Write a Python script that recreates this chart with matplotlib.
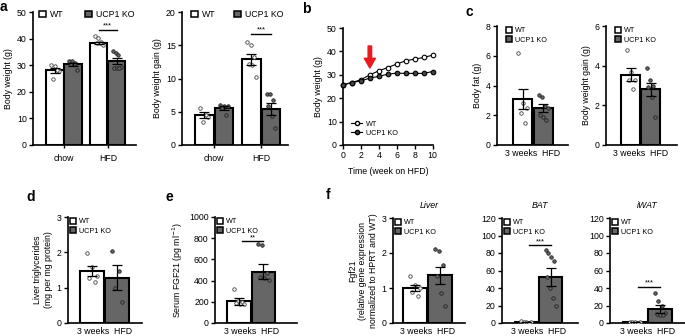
import numpy as np
import matplotlib
matplotlib.use("Agg")
import matplotlib.pyplot as plt
from matplotlib.patches import Patch
from matplotlib.lines import Line2D

plt.rcParams['font.family'] = ['Liberation Sans', 'DejaVu Sans']
plt.rcParams['font.size'] = 6.3

KO_GRAY = '#666666'
RED = '#e8191f'

# ---- data ----
# a: body weight / gain, groups chow and HFD
groups_a = ['chow', 'HFD']
bw_wt_mean = [28.1, 38.4]
bw_wt_sem = [1.0, 0.5]
bw_ko_mean = [30.3, 31.5]
bw_ko_sem = [0.5, 1.2]
bw_wt_pts = [[30.0, 29.6, 27.9, 24.8, 28.2], [40.9, 40.4, 38.8, 38.5, 38.3, 37.6]]
bw_ko_pts = [[31.6, 31.4, 30.9, 30.6, 30.5, 28.1], [35.4, 34.4, 33.8, 29.4, 29.0, 29.0, 28.9]]

gain_wt_mean = [4.5, 12.9]
gain_wt_sem = [0.5, 0.85]
gain_ko_mean = [5.5, 5.35]
gain_ko_sem = [0.3, 0.9]
gain_wt_pts = [[5.5, 4.5, 3.5, 4.2], [15.5, 15.0, 13.3, 12.2, 12.0, 10.2]]
gain_ko_pts = [[6.0, 5.9, 5.8, 5.6, 4.5], [7.6, 7.6, 6.8, 5.8, 4.3, 2.5]]

# b: body weight time course
weeks = [0, 1, 2, 3, 4, 5, 6, 7, 8, 9, 10]
tc_wt = [25.7, 26.7, 27.9, 30.0, 31.7, 33.1, 34.6, 36.0, 36.7, 37.4, 38.4]
tc_ko = [25.7, 26.7, 27.4, 28.6, 29.3, 30.3, 30.7, 30.6, 30.6, 30.6, 31.4]

# c, d, e, f: single group "3 weeks HFD"  -> [WT, KO]
fat_mean = [3.07, 2.47]
fat_sem = [0.68, 0.26]
fat_pts = [[6.17, 2.8, 2.47, 2.13, 1.5], [3.36, 3.2, 2.62, 2.47, 2.02, 1.9, 1.68]]

gain3_mean = [3.55, 2.8]
gain3_sem = [0.32, 0.33]
gain3_pts = [[4.79, 3.7, 3.3, 3.28, 2.8], [3.9, 3.28, 2.97, 2.9, 2.44, 1.43]]

tg_mean = [1.47, 1.28]
tg_sem = [0.14, 0.35]
tg_pts = [[1.97, 1.59, 1.33, 1.27, 1.17], [2.05, 1.47, 1.0, 0.6]]

fgf_mean = [203, 484]
fgf_sem = [30, 70]
fgf_pts = [[325, 210, 195, 185, 180, 175], [745, 735, 475, 430, 420, 410]]

liver_mean = [1.0, 1.36]
liver_sem = [0.08, 0.25]
liver_pts = [[1.33, 1.1, 1.0, 0.9, 0.76], [2.12, 2.07, 1.67, 1.33, 0.86, 0.5]]

bat_mean = [1.0, 52.3]
bat_sem = [0.2, 10.0]
bat_pts = [[1.8, 1.5, 1.0, 0.6, 0.4], [84, 79.5, 75, 71, 53, 40, 28.4, 19]]

iwat_mean = [1.0, 15.9]
iwat_sem = [0.2, 4.7]
iwat_pts = [[1.5, 1.2, 1.0, 0.8, 0.5], [34, 24.6, 19, 11.4, 10, 9.5, 9]]

# ---- figure ----
W, H = 685, 336
fig = plt.figure(figsize=(W / 100, H / 100), dpi=100)


def add_ax(l, t, r, b):
    return fig.add_axes([l / W, 1 - b / H, (r - l) / W, (b - t) / H])


def style(ax):
    for s in ['top', 'right']:
        ax.spines[s].set_visible(False)
    for s in ['left', 'bottom']:
        ax.spines[s].set_linewidth(1.2)
    ax.tick_params(width=1, length=3, labelsize=6.3, pad=1.5)


def bar(ax, x, mean, sem, pts, ko, width):
    ax.bar(x, mean, width=width, color=KO_GRAY if ko else 'white',
           edgecolor='black', linewidth=1.5, zorder=2)
    n = len(pts)
    # spread the dots across the bar, alternating so they don't form a diagonal
    offs = np.linspace(-0.22, 0.22, n) * width
    offs = np.concatenate([offs[::2], offs[1::2]])
    xs = x + offs
    if ko:
        ax.plot(xs, pts, 'o', ms=2.5, mfc=KO_GRAY, mec='#222222', mew=0.6, zorder=3)
    else:
        ax.plot(xs, pts, 'o', ms=2.5, mfc='white', mec='#444444', mew=0.6, zorder=3)
    ax.errorbar(x, mean, yerr=sem, fmt='none', ecolor='black', elinewidth=0.9,
                capsize=3.3, capthick=0.9, zorder=4)


def sig(ax, x0, x1, y, txt):
    ax.plot([x0, x1], [y, y], color='black', lw=1, zorder=5)
    ax.text((x0 + x1) / 2, y, txt, ha='center', va='bottom', fontsize=5.5)


def legend(ax, x_px, y_px, ncol=1, colsp=1.0, fs=5.2):
    handles = [Patch(facecolor='white', edgecolor='black', linewidth=1.1),
               Patch(facecolor=KO_GRAY, edgecolor='black', linewidth=1.1)]
    ax.legend(handles, ['WT', 'UCP1 KO'], loc='upper left', ncol=ncol,
              bbox_to_anchor=(x_px / W, 1 - y_px / H), bbox_transform=fig.transFigure,
              frameon=False, borderpad=0, borderaxespad=0, handlelength=0.8,
              handleheight=0.8, handletextpad=0.5, labelspacing=0.3,
              columnspacing=colsp, fontsize=fs)


def panel_label(x_px, y_px, s):
    fig.text(x_px / W, 1 - y_px / H, s, fontsize=10, fontweight='bold', va='top', ha='left')


# a1 / a2 : two-group bars
def two_group(box, xlim, wt_m, wt_s, ko_m, ko_s, wt_p, ko_p, ylim, yticks, ylabel, sig_y, leg):
    ax = add_ax(*box)
    style(ax)
    w = 0.39
    off = 0.205
    for i in range(len(groups_a)):
        bar(ax, i - off, wt_m[i], wt_s[i], wt_p[i], False, w)
        bar(ax, i + off, ko_m[i], ko_s[i], ko_p[i], True, w)
    sig(ax, 1 - off, 1 + off, sig_y, '***')
    ax.set_xlim(*xlim)
    ax.set_ylim(*ylim)
    ax.set_yticks(yticks)
    ax.set_xticks(range(len(groups_a)))
    ax.set_xticklabels(groups_a)
    ax.tick_params(axis='x', length=2.5, pad=4)
    ax.set_ylabel(ylabel, labelpad=3)
    legend(ax, *leg)
    return ax


two_group((33, 12, 136, 145), (-0.705, 1.64), bw_wt_mean, bw_wt_sem, bw_ko_mean, bw_ko_sem,
          bw_wt_pts, bw_ko_pts, (0, 50), range(0, 51, 10), 'Body weight (g)', 43.4,
          (39, 10, 2, 2.4, 6.3))
two_group((182, 12, 288, 145), (-0.68, 1.57), gain_wt_mean, gain_wt_sem, gain_ko_mean, gain_ko_sem,
          gain_wt_pts, gain_ko_pts, (0, 20), range(0, 21, 5), 'Body weight gain (g)', 16.75,
          (191, 10, 2, 2.0, 6.3))
panel_label(0, 0, 'a')

# b : time course
axb = add_ax(343, 28, 433, 145)
style(axb)
axb.plot(weeks, tc_wt, '-o', color='black', lw=0.8, ms=3.3, mfc='white', mec='black', mew=0.8,
         zorder=3, clip_on=False)
axb.plot(weeks, tc_ko, '-o', color='black', lw=0.8, ms=3.3, mfc='#444444', mec='black', mew=0.8,
         zorder=3, clip_on=False)
axb.annotate('', xy=(3, 32.9), xytext=(3, 42.3),
             arrowprops=dict(facecolor=RED, edgecolor=RED, width=2.5, headwidth=8, headlength=7))
axb.set_xlim(0, 10.05)
axb.set_ylim(0, 50)
axb.set_xticks(range(0, 11, 2))
axb.set_yticks(range(0, 51, 10))
axb.set_xlabel('Time (week on HFD)', labelpad=5)
axb.set_ylabel('Body weight (g)', labelpad=3)
hb = [Line2D([], [], color='black', lw=0.8, marker='o', ms=3, mfc='white', mec='black'),
      Line2D([], [], color='black', lw=0.8, marker='o', ms=3, mfc='#444444', mec='black')]
axb.legend(hb, ['WT', 'UCP1 KO'], loc='lower left', bbox_to_anchor=(0.05, 0.04), frameon=False,
           borderpad=0, handlelength=1.5, handletextpad=0.5, labelspacing=0.25, fontsize=5.2)
panel_label(302, 2, 'b')


# single group panels
def one_group(box, xlim, means, sems, pts, ylim, yticks, ylabel, leg_px, sig_y=None, sig_txt=None,
              title=None, ylabelpad=3):
    ax = add_ax(*box)
    style(ax)
    w = 0.95
    bar(ax, 0, means[0], sems[0], pts[0], False, w)
    bar(ax, 1, means[1], sems[1], pts[1], True, w)
    if sig_y is not None:
        sig(ax, 0.12, 1.0, sig_y, sig_txt)
    ax.set_xlim(*xlim)
    ax.set_ylim(*ylim)
    ax.set_yticks(yticks)
    ax.set_xticks([0.5])
    ax.set_xticklabels(['3 weeks  HFD'])
    ax.tick_params(axis='x', length=0, pad=3)
    ax.set_ylabel(ylabel, labelpad=ylabelpad)
    if title:
        ax.set_title(title, fontsize=6.3, style='italic', pad=7)
    legend(ax, *leg_px)
    return ax


one_group((497, 26, 568, 145), (-1.25, 2.2), fat_mean, fat_sem, fat_pts, (0, 8), range(0, 9, 2),
          'Body fat (g)', (506, 27))
one_group((606, 26, 677, 145), (-1.24, 2.31), gain3_mean, gain3_sem, gain3_pts, (0, 6), range(0, 7, 2),
          'Body weight gain (g)', (615, 27))
panel_label(466, 5, 'c')

one_group((68, 217, 142, 323), (-0.96, 2.0), tg_mean, tg_sem, tg_pts, (0, 3), range(0, 4),
          'Liver triglycerides\n(mg per mg protein)', (70, 218))
panel_label(26, 190, 'd')

one_group((215, 217, 297, 323), (-0.98, 2.37), fgf_mean, fgf_sem, fgf_pts, (0, 1000), range(0, 1001, 200),
          'Serum FGF21 (pg ml$^{-1}$)', (217, 218), sig_y=772, sig_txt='**')
panel_label(165, 190, 'e')

one_group((393, 218, 465, 323), (-0.88, 2.0), liver_mean, liver_sem, liver_pts, (0, 3), range(0, 4),
          'Fgf21\n(relative gene expression\nnormalized to HPRT and WT)', (395, 219), title='Liver')
one_group((502, 218, 578, 323), (-0.996, 2.12), bat_mean, bat_sem, bat_pts, (0, 120), range(0, 121, 20),
          '', (504, 219), sig_y=89, sig_txt='***', title='BAT')
one_group((610, 218, 685, 323), (-1.0, 2.0), iwat_mean, iwat_sem, iwat_pts, (0, 120), range(0, 121, 20),
          '', (612, 219), sig_y=41.6, sig_txt='***', title='iWAT')
panel_label(326, 188, 'f')

fig.savefig('out.png', dpi=100)
